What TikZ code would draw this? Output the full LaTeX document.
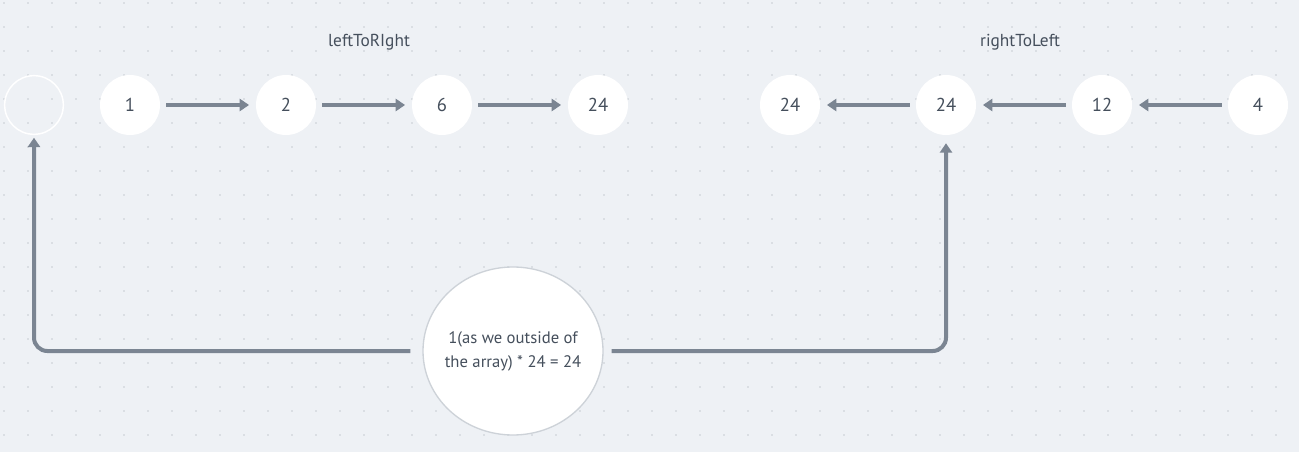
\documentclass[tikz,border=0pt]{standalone}
\usepackage{fontspec}
\setmainfont{PT Sans}
\usetikzlibrary{arrows.meta,positioning,shapes.geometric}
\definecolor{canvas}{HTML}{EEF1F5}
\definecolor{griddot}{HTML}{C6CBD2}
\definecolor{linkgrey}{HTML}{7B8592}
\definecolor{inkgrey}{HTML}{454F5C}
\definecolor{rimgrey}{HTML}{CDD2D8}

\begin{document}
\begin{tikzpicture}[
    x=0.75pt, y=-0.75pt,
    cell/.style={circle, fill=white, minimum size=45pt, inner sep=0pt,
        text=inkgrey, font=\fontsize{14}{16}\selectfont},
    ring/.style={circle, draw=white, line width=1.1pt, minimum size=44pt, inner sep=0pt},
    note/.style={ellipse, fill=white, draw=rimgrey, line width=1pt,
        minimum width=135pt, minimum height=126pt, inner sep=-6pt, align=center,
        text=inkgrey, font=\fontsize{12.5}{18}\selectfont},
    title/.style={text=inkgrey, font=\fontsize{13}{15}\selectfont},
    link/.style={draw=linkgrey, line width=3pt,
        -{Triangle[length=7pt,width=9pt]}, shorten <=4.5pt, shorten >=5pt}
]
% canvas and dot grid
\fill[canvas] (0,0) rectangle (1299,452);
\useasboundingbox (0,0) rectangle (1299,452);
\foreach \x in {0,...,54}{
    \foreach \y in {0,...,18}{
        \fill[griddot] (4+24*\x,3+24*\y) circle (0.6pt);
    }
}

% titles
\node[title] (ltr) at (369,42) {leftToRIght};
\node[title] (rtl) at (1020,42) {rightToLeft};

% leftToRight row
\node[ring] (l0) at (34,105) {};
\foreach \v [count=\i] in {1,2,6,24}
    \node[cell] (l\i) at (-26+156*\i,105) {\v};
\foreach \i/\j in {1/2,2/3,3/4}
    \draw[link] (l\i) -- (l\j);

% rightToLeft row
\foreach \v [count=\i] in {24,24,12,4}
    \node[cell] (r\i) at (634+156*\i,105) {\v};
\foreach \i/\j in {4/3,3/2,2/1}
    \draw[link] (r\i) -- (r\j);

% result
\node[note] (note) at (513,351) {1(as we outside of\\the array) * 24 = 24};
\draw[link, rounded corners=10pt, shorten <=0pt, shorten >=2pt]
    ([xshift=-9pt]note.west) -| (l0);
\draw[link, rounded corners=10pt, shorten <=0pt, shorten >=6pt]
    ([xshift=6pt]note.east) -| (r2);
\end{tikzpicture}
\end{document}
